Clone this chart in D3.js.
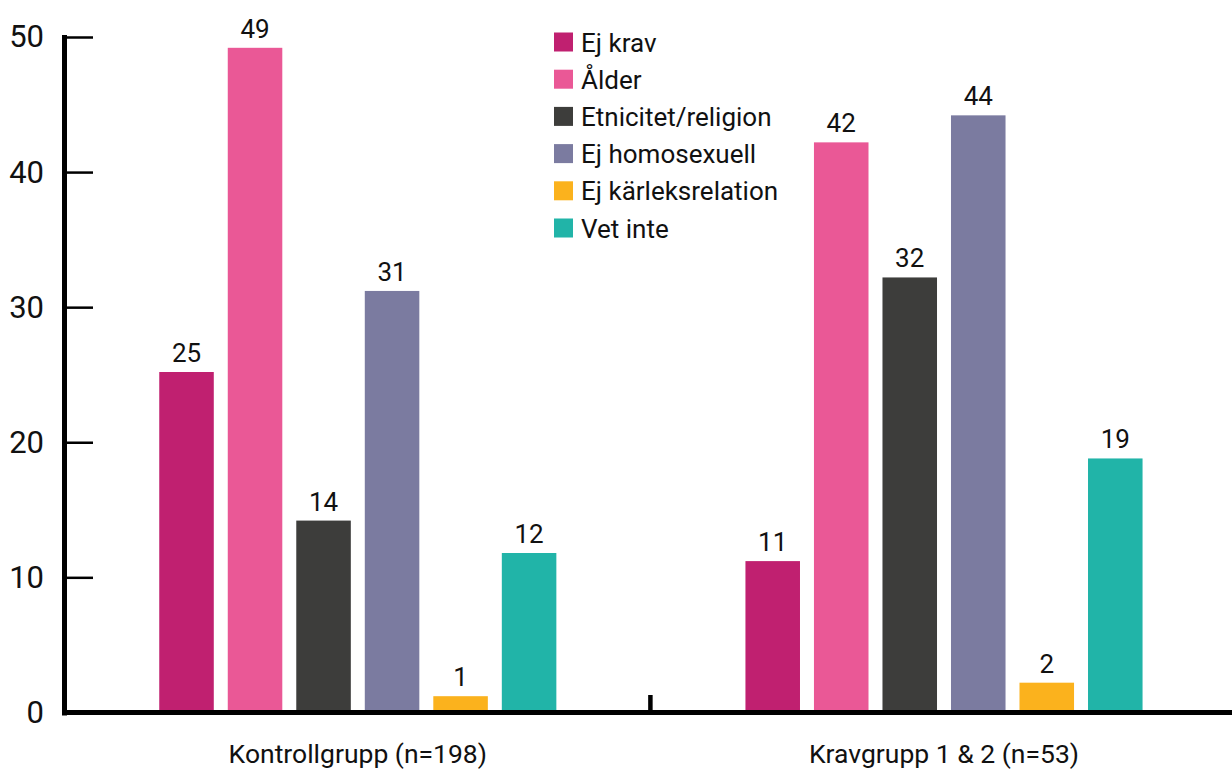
<!DOCTYPE html>
<html>
<head>
<meta charset="utf-8">
<script src="https://cdn.jsdelivr.net/npm/d3@7"></script>
<style>
  body { margin: 0; background: #fff; }
  svg { font-family: Roboto, "Noto Sans", sans-serif; }
</style>
</head>
<body>
<div id="chart"></div>
<script>
var groups = ['Kontrollgrupp (n=198)', 'Kravgrupp 1 & 2 (n=53)'];
var series = ['Ej krav', 'Ålder', 'Etnicitet/religion', 'Ej homosexuell', 'Ej kärleksrelation', 'Vet inte'];
var kontrollValues = [25.2, 49.2, 14.2, 31.2, 1.2, 11.8];
var kravValues = [11.2, 42.2, 32.2, 44.2, 2.2, 18.8];
var colors = ['#c02070', '#ea5896', '#3d3d3b', '#7b7ba0', '#fbb21d', '#21b4a8'];
var yTicks = [0, 10, 20, 30, 40, 50];

var rows = groups.map(function(g, i) {
  var vals = i === 0 ? kontrollValues : kravValues;
  return { group: g, values: series.map(function(s, j) { return { key: s, value: vals[j] }; }) };
});

var width = 1232;
var height = 769;

var svg = d3.select('#chart')
    .append('svg')
    .attr('width', width)
    .attr('height', height);

// Scales
var x0 = d3.scaleBand()
    .domain(groups)
    .range([64.7, 1237.1])
    .padding(0);
var x1 = d3.scaleBand()
    .domain(series)
    .range([0, x0.bandwidth()])
    .paddingInner(0.204)
    .paddingOuter(1.38);
var y = d3.scaleLinear()
    .domain([0, 50])
    .range([712.4, 37]);
var color = d3.scaleOrdinal().domain(series).range(colors);

// Bars
var g = svg.append('g').selectAll('g')
    .data(rows)
    .enter()
    .append('g')
    .attr('transform', function(d) { return 'translate(' + x0(d.group) + ',0)'; });

g.selectAll('rect')
    .data(function(d) { return d.values; })
    .enter()
    .append('rect')
    .attr('x', function(d) { return x1(d.key); })
    .attr('y', function(d) { return y(d.value); })
    .attr('width', x1.bandwidth())
    .attr('height', function(d) { return y(0) - y(d.value); })
    .attr('fill', function(d) { return color(d.key); });

g.selectAll('text')
    .data(function(d) { return d.values; })
    .enter()
    .append('text')
    .text(function(d) { return d3.format('.0f')(d.value); })
    .attr('x', function(d) { return x1(d.key) + x1.bandwidth() / 2; })
    .attr('y', function(d) { return y(d.value) - 10; })
    .attr('text-anchor', 'middle')
    .attr('font-size', 26)
    .attr('fill', '#111');

// Y axis
var axisY = d3.axisLeft(y)
    .tickValues(yTicks)
    .tickSize(-29)
    .tickSizeOuter(0)
    .tickPadding(20);
var gy = svg.append('g')
    .attr('transform', 'translate(64,0)')
    .call(axisY);
gy.select('.domain')
    .attr('stroke', '#000')
    .attr('stroke-width', 5)
    .attr('stroke-linecap', 'square');
gy.selectAll('.tick line')
    .attr('stroke', '#000')
    .attr('stroke-width', 2.5);
gy.selectAll('.tick text')
    .attr('font-family', 'Roboto, sans-serif')
    .attr('font-size', 31)
    .attr('fill', '#111');

// X axis
var axisX = d3.axisBottom(x0)
    .tickSize(0)
    .tickSizeOuter(0)
    .tickPadding(32);
var gx = svg.append('g')
    .attr('transform', 'translate(0,' + y(0) + ')')
    .call(axisX);
gx.select('.domain')
    .attr('stroke', '#000')
    .attr('stroke-width', 5)
    .attr('d', 'M62,0H' + width);
gx.selectAll('.tick text')
    .attr('font-family', 'Roboto, sans-serif')
    .attr('font-size', 26.5)
    .attr('fill', '#111');

// divider tick between groups
svg.append('line')
    .attr('x1', x0(groups[1]) - 0.5)
    .attr('x2', x0(groups[1]) - 0.5)
    .attr('y1', 695)
    .attr('y2', y(0))
    .attr('stroke', '#000')
    .attr('stroke-width', 4.5);

// Legend
var legend = svg.append('g')
    .attr('transform', 'translate(554,32.5)');
var item = legend.selectAll('g')
    .data(series)
    .enter()
    .append('g')
    .attr('transform', function(d, i) { return 'translate(0,' + i * 37.2 + ')'; });
item.append('rect')
    .attr('width', 19)
    .attr('height', 19)
    .attr('fill', function(d) { return color(d); });
item.append('text')
    .text(function(d) { return d; })
    .attr('x', 27)
    .attr('y', 19)
    .attr('font-size', 26)
    .attr('fill', '#111');
</script>
</body>
</html>
